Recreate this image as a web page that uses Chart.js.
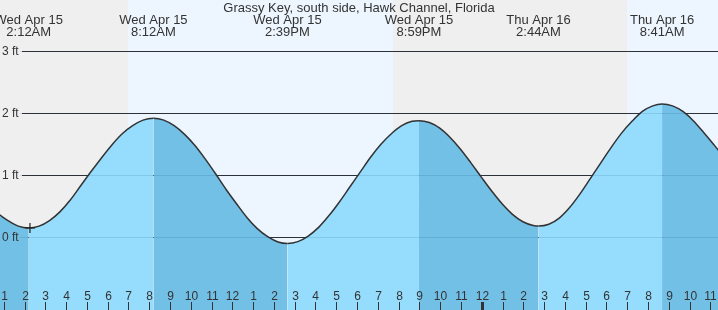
<!DOCTYPE html>
<html>
<head>
<meta charset="utf-8">
<script src="https://cdn.jsdelivr.net/npm/chart.js@4.4.0/dist/chart.umd.min.js"></script>
<style>
  html, body { margin: 0; padding: 0; background: #fff; }
  #tideChart { display: block; }
</style>
</head>
<body>
<canvas id="tideChart" width="718" height="310"></canvas>
<script>
const stationTitle = "Grassy Key, south side, Hawk Channel, Florida";

// hours counted from Wed Apr 15 00:00, heights in feet
const tideHours = [0.8, 1.2, 1.7, 2.2,
    2.7, 3.2, 3.7, 4.2, 4.7, 5.2, 5.7, 6.2, 6.7, 7.2, 7.7, 8.2,
    8.7, 9.2, 9.7, 10.2, 10.7, 11.2, 11.7, 12.2, 12.7, 13.2, 13.7, 14.2, 14.65,
    15.15, 15.65, 16.15, 16.65, 17.15, 17.65, 18.15, 18.65, 19.15, 19.65, 20.15, 20.65, 20.98,
    21.48, 21.98, 22.48, 22.98, 23.48, 23.98, 24.48, 24.98, 25.48, 25.98, 26.48, 26.73,
    27.23, 27.73, 28.23, 28.73, 29.23, 29.73, 30.23, 30.73, 31.23, 31.73, 32.23, 32.68,
    33.18, 33.68, 34.18, 34.68, 35.18, 35.4];
const tideHeights = [0.36, 0.27, 0.18, 0.15,
    0.18, 0.27, 0.41, 0.6, 0.83, 1.06, 1.28, 1.49, 1.67, 1.8, 1.89, 1.92,
    1.89, 1.8, 1.66, 1.48, 1.26, 1.02, 0.77, 0.54, 0.32, 0.14, 0.01, -0.076, -0.1,
    -0.07, 0.02, 0.16, 0.35, 0.57, 0.81, 1.05, 1.29, 1.5, 1.67, 1.8, 1.87, 1.88,
    1.85, 1.76, 1.61, 1.42, 1.2, 0.97, 0.745, 0.54, 0.37, 0.25, 0.19, 0.18,
    0.21, 0.31, 0.48, 0.7, 0.95, 1.2, 1.45, 1.68, 1.87, 2.03, 2.12, 2.15,
    2.12, 2.03, 1.88, 1.69, 1.49, 1.4];

const eventHours = [2.2, 8.2, 14.65, 20.98, 26.73, 32.68];
const eventDays = ["Wed Apr 15", "Wed Apr 15", "Wed Apr 15", "Wed Apr 15", "Thu Apr 16", "Thu Apr 16"];
const eventTimes = ["2:12AM", "8:12AM", "2:39PM", "8:59PM", "2:44AM", "8:41AM"];

const nightStarts = [0, 19.73];
const nightEnds = [6.98, 31.0];

const heightTicks = [0, 1, 2, 3];
const hourTicks = [1, 2, 3, 4, 5, 6, 7, 8, 9, 10, 11, 12, 13, 14, 15, 16, 17, 18, 19, 20, 21, 22, 23, 24,
    25, 26, 27, 28, 29, 30, 31, 32, 33, 34, 35];
const hourLabels = ["1", "2", "3", "4", "5", "6", "7", "8", "9", "10", "11", "12",
    "1", "2", "3", "4", "5", "6", "7", "8", "9", "10", "11", "12",
    "1", "2", "3", "4", "5", "6", "7", "8", "9", "10", "11"];
const midnightHour = 24;

const nowHour = [2.26];
const nowHeight = [0.15];

const textColor = "#333";
const font = "Liberation Sans, Arial, sans-serif";

const tidePoints = tideHours.map((h, i) => ({ x: h, y: tideHeights[i] }));
const nowPoints = nowHour.map((h, i) => ({ x: h, y: nowHeight[i] }));

const backdropPlugin = {
    id: "backdrop",
    beforeDatasetsDraw(chart) {
        const { ctx, chartArea: area, scales: { x, y } } = chart;
        ctx.save();
        ctx.fillStyle = "#edf6fe";
        ctx.fillRect(area.left, area.top, area.right - area.left, area.bottom - area.top);
        ctx.fillStyle = "#efefef";
        nightStarts.forEach((s, i) => {
            const x0 = Math.max(area.left, x.getPixelForValue(s));
            const x1 = Math.min(area.right, x.getPixelForValue(nightEnds[i]));
            ctx.fillRect(Math.round(x0), area.top, Math.round(x1) - Math.round(x0), area.bottom - area.top);
        });
        ctx.strokeStyle = "#333";
        ctx.lineWidth = 1;
        heightTicks.forEach(v => {
            const py = Math.round(y.getPixelForValue(v)) + 0.5;
            ctx.beginPath();
            ctx.moveTo(22, py);
            ctx.lineTo(area.right, py);
            ctx.stroke();
        });
        ctx.restore();
    },
    afterDatasetsDraw(chart) {
        const { ctx, chartArea: area, scales: { x, y } } = chart;
        ctx.save();
        // grid lines show faintly through the water
        ctx.strokeStyle = "rgba(0, 50, 90, 0.12)";
        ctx.lineWidth = 1;
        heightTicks.forEach(v => {
            const py = Math.round(y.getPixelForValue(v)) + 0.5;
            ctx.beginPath();
            ctx.moveTo(20, py);
            ctx.lineTo(area.right, py);
            ctx.stroke();
        });

        ctx.fillStyle = textColor;
        ctx.font = "12px " + font;
        ctx.textAlign = "left";
        ctx.textBaseline = "middle";
        heightTicks.forEach(v => {
            ctx.fillText(v + " ft", 2, Math.round(y.getPixelForValue(v)) + 0.5);
        });

        // hour ticks along the bottom
        ctx.textAlign = "center";
        ctx.textBaseline = "alphabetic";
        ctx.strokeStyle = textColor;
        hourTicks.forEach((h, i) => {
            const px = Math.round(x.getPixelForValue(h));
            ctx.fillText(hourLabels[i], px + 0.5, 300);
            if (h === midnightHour) {
                ctx.fillRect(px - 1, 302, 3, area.bottom - 302);
            } else {
                ctx.beginPath();
                ctx.moveTo(px + 0.5, 302);
                ctx.lineTo(px + 0.5, area.bottom);
                ctx.stroke();
            }
        });

        // title and high / low labels
        ctx.font = "13px " + font;
        ctx.fillText(stationTitle, (area.left + area.right) / 2, 12);
        eventHours.forEach((h, i) => {
            const px = x.getPixelForValue(h);
            ctx.fillText(eventDays[i], px, 24);
            ctx.fillText(eventTimes[i], px, 36);
        });
        ctx.restore();
    }
};

new Chart(document.getElementById("tideChart"), {
    type: "line",
    data: {
        datasets: [
            {
                data: nowPoints,
                showLine: false,
                pointStyle: "cross",
                pointRadius: 5,
                borderColor: "#222",
                borderWidth: 1.2,
                fill: false
            },
            {
                data: tidePoints,
                borderColor: "#333",
                borderWidth: 1.5,
                pointRadius: 0,
                cubicInterpolationMode: "monotone",
                fill: "start",
                backgroundColor: "#96dcfd",
                segment: {
                    backgroundColor: c => c.p1.parsed.y < c.p0.parsed.y ? "#72c0e6" : "#96dcfd"
                }
            }
        ]
    },
    options: {
        responsive: false,
        animation: false,
        layout: { padding: 0, autoPadding: false },
        scales: {
            x: { type: "linear", min: 0.818, max: 35.37, display: false },
            y: { min: -1.173, max: 3.827, display: false }
        },
        plugins: {
            legend: { display: false },
            tooltip: { enabled: false }
        }
    },
    plugins: [backdropPlugin]
});
</script>
</body>
</html>
